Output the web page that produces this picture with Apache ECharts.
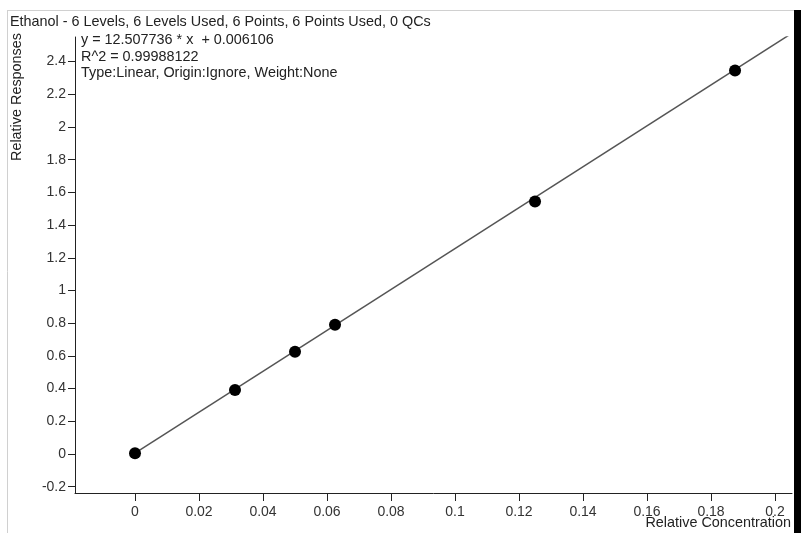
<!DOCTYPE html>
<html>
<head>
<meta charset="utf-8">
<title>Ethanol calibration</title>
<script src="https://cdn.jsdelivr.net/npm/echarts@6/dist/echarts.min.js"></script>
<style>
  html, body { margin: 0; padding: 0; background: #fff; }
  #chart { width: 801px; height: 533px; }
</style>
</head>
<body>
<div id="chart"></div>
<script>
// Calibration levels: relative concentration vs relative response
const concentrations = [0, 0.03125, 0.05, 0.0625, 0.125, 0.1875];
const responses = [0.004, 0.392, 0.625, 0.790, 1.545, 2.345];

// Linear fit reported for this compound
const slope = 12.507736;
const intercept = 0.006106;
const rSquared = '0.99988122';

// Axis tick labels
const xTicks = [0, 0.02, 0.04, 0.06, 0.08, 0.1, 0.12, 0.14, 0.16, 0.18, 0.2];
const yTicks = [-0.2, 0, 0.2, 0.4, 0.6, 0.8, 1, 1.2, 1.4, 1.6, 1.8, 2, 2.2, 2.4];

const titleText = 'Ethanol - 6 Levels, 6 Levels Used, 6 Points, 6 Points Used, 0 QCs';
const fitLines = [
  'y = ' + slope + ' * x  + ' + intercept,
  'R^2 = ' + rSquared,
  'Type:Linear, Origin:Ignore, Weight:None'
];

const xRange = [-0.01875, 0.2053];
const yRange = [-0.2385, 2.5505];

const fitData = [
  [0, intercept],
  [xRange[1], slope * xRange[1] + intercept]
];
const pointData = concentrations.map((c, i) => [c, responses[i]]);

const font = '"Liberation Sans", Arial, sans-serif';
const textFont = '14.4px ' + font;
const chart = echarts.init(document.getElementById('chart'), null, { renderer: 'canvas' });

chart.setOption({
  backgroundColor: '#fff',
  animation: false,
  grid: { left: 75, top: 37, right: 9, bottom: 40, containLabel: false },
  xAxis: {
    type: 'value',
    min: xRange[0],
    max: xRange[1],
    axisLine: { show: true, onZero: false, lineStyle: { color: '#222', width: 1 } },
    axisTick: { show: true, length: 8, customValues: xTicks, lineStyle: { color: '#222' } },
    axisLabel: {
      customValues: xTicks,
      margin: 12,
      color: '#333',
      fontFamily: font,
      fontSize: 14
    },
    splitLine: { show: false }
  },
  yAxis: {
    type: 'value',
    min: yRange[0],
    max: yRange[1],
    axisLine: { show: true, onZero: false, lineStyle: { color: '#222', width: 1 } },
    axisTick: { show: true, length: 7, customValues: yTicks, lineStyle: { color: '#222' } },
    axisLabel: {
      customValues: yTicks,
      margin: 9,
      color: '#333',
      fontFamily: font,
      fontSize: 14
    },
    splitLine: { show: false }
  },
  series: [
    {
      name: 'Fit',
      type: 'line',
      data: fitData,
      symbol: 'none',
      clip: true,
      lineStyle: { color: '#555', width: 1.5 },
      z: 2
    },
    {
      name: 'Levels',
      type: 'scatter',
      data: pointData,
      symbol: 'circle',
      symbolSize: 12,
      itemStyle: { color: '#000', opacity: 1 },
      z: 3
    }
  ],
  graphic: [
    { type: 'line', shape: { x1: 7, y1: 10.5, x2: 794, y2: 10.5 }, style: { stroke: '#d0d0d0', lineWidth: 1 } },
    { type: 'line', shape: { x1: 7.5, y1: 10, x2: 7.5, y2: 533 }, style: { stroke: '#d0d0d0', lineWidth: 1 } },
    { type: 'rect', shape: { x: 794, y: 10, width: 7, height: 523 }, style: { fill: '#000' } },
    {
      type: 'text', left: 10, top: 15,
      style: { text: titleText, font: textFont, fill: '#222' }
    },
    {
      type: 'text', left: 81, top: 32,
      style: { text: fitLines.join('\n'), font: textFont, fill: '#222', lineHeight: 16.5 }
    },
    {
      type: 'text', x: 17, y: 97, rotation: Math.PI / 2,
      style: { text: 'Relative Responses', font: textFont, fill: '#222', align: 'center', verticalAlign: 'middle' }
    },
    {
      type: 'text', x: 791, y: 523,
      style: { text: 'Relative Concentration', font: textFont, fill: '#222', align: 'right', verticalAlign: 'middle' }
    }
  ]
});
</script>
</body>
</html>
